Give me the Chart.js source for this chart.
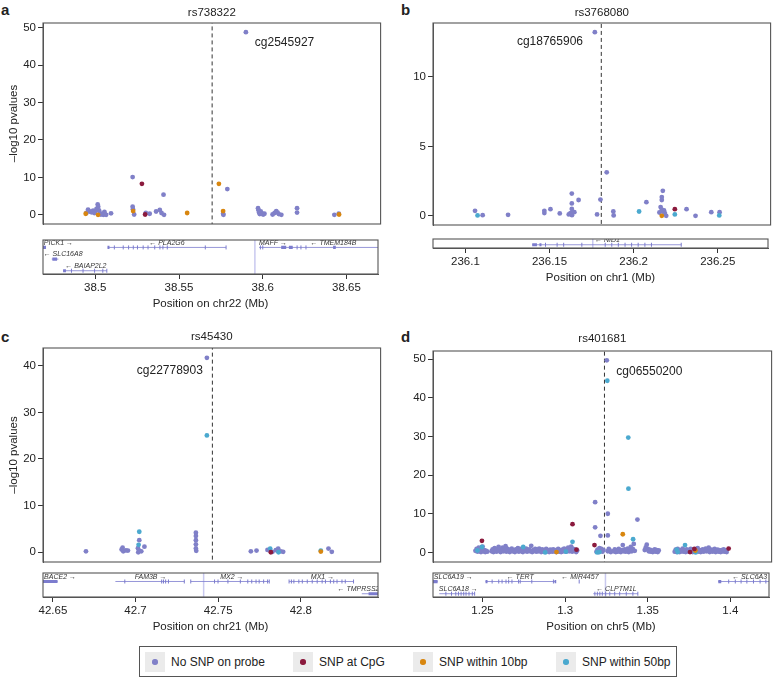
<!DOCTYPE html>
<html lang="en">
<head>
<meta charset="UTF-8">
<title>CpG probe associations around four SNPs</title>
<script src="https://cdn.jsdelivr.net/npm/chart.js"></script>
<style>
    body {
        margin: 0;
        background: #fff;
        font-family: "Liberation Sans", Arial, sans-serif;
        color: #222;
    }
    #page {
        position: relative;
        width: 773px;
        height: 677px;
        overflow: hidden;
    }
    canvas { position: absolute; }
    .tag {
        position: absolute;
        font-weight: bold;
        font-size: 15px;
        line-height: 16px;
    }
    .legend {
        position: absolute;
        left: 139px;
        top: 646px;
        width: 536px;
        height: 29px;
        border: 1px solid #555;
    }
    .key {
        position: absolute;
        top: 5px;
        width: 20px;
        height: 20px;
        background: #ebebeb;
    }
    .key span {
        position: absolute;
        left: 7.3px;
        top: 7.3px;
        width: 5.4px;
        height: 5.4px;
        border-radius: 50%;
    }
    .lab {
        position: absolute;
        top: 0;
        line-height: 30px;
        font-size: 12px;
        white-space: nowrap;
    }
</style>
</head>
<body>
<div id="page">
    <div class="tag" style="left:1px;top:2px">a</div>
    <div class="tag" style="left:401px;top:2px">b</div>
    <div class="tag" style="left:1px;top:329px">c</div>
    <div class="tag" style="left:401px;top:329px">d</div>
    <div class="legend" id="legend"></div>
</div>

<script>
// categories and colours
const CATEGORIES = ['No SNP on probe', 'SNP at CpG', 'SNP within 10bp', 'SNP within 50bp'];
const COLORS = ['#8080c8', '#8b1a3d', '#d8860f', '#4ba9cf'];

// ---- panel a : rs738322, chr22 ----
const aXRange = [38.4688, 38.6688];
const aYRange = [-2.44, 51.25];
const aXTicks = [38.5, 38.55, 38.6, 38.65];
const aYTicks = [0, 10, 20, 30, 40, 50];
const aSnp = 38.569;
const aProbe = ['cg2545927', 38.5943, 45.9, 'left'];
const aNoSnp = [
    [38.4945, 0.5], [38.4955, 1.4], [38.4965, 0.9], [38.4975, 0.7], [38.4985, 1.1], [38.4992, 0.5],
    [38.5000, 1.0], [38.5005, 1.6], [38.5012, 2.8], [38.5015, 2.2], [38.5020, 1.2], [38.5025, 0.4],
    [38.5030, 0.1], [38.5038, 0.3], [38.5045, 0.0], [38.5052, 0.8], [38.5055, 0.2], [38.5062, 0.0],
    [38.5091, 0.4], [38.5219, 10.1], [38.5219, 2.2], [38.5221, 1.5], [38.5228, 0.1], [38.5297, 0.5],
    [38.5320, 0.3], [38.5358, 0.9], [38.5380, 1.3], [38.5390, 0.5], [38.5402, 5.4], [38.5405, 0.0],
    [38.5755, 0.3], [38.5757, 0.0], [38.5780, 6.9], [38.5890, 48.8], [38.5962, 1.8], [38.5965, 1.2],
    [38.5968, 0.6], [38.5972, 0.2], [38.5978, 0.9], [38.5985, 0.4], [38.5992, 0.1], [38.6000, 0.3],
    [38.6048, 0.1], [38.6060, 0.5], [38.6070, 1.0], [38.6078, 0.6], [38.6085, 0.2], [38.6100, 0.0],
    [38.6193, 1.8], [38.6193, 0.6], [38.6414, 0.0], [38.6440, 0.3]
];
const aCpg = [[38.5274, 8.3], [38.5293, 0.1]];
const aWithin10 = [[38.4941, 0.3], [38.5014, 0.0], [38.5222, 1.0], [38.5542, 0.5], [38.5730, 8.3], [38.5755, 1.0], [38.6442, 0.1]];
const aWithin50 = [];
const aRows = [0.363, 3.28];
const aGenes = [[38.4500, 38.4706, 1], [38.5075, 38.5781, 1], [38.4740, 38.4780, 2], [38.4808, 38.5069, 3], [38.5978, 38.6108, 1], [38.6110, 38.7000, 1]];
const aBlocks = [[38.4600, 38.4706, 1], [38.5073, 38.5085, 1], [38.6110, 38.6140, 1], [38.6156, 38.6179, 1], [38.6420, 38.6436, 1], [38.4744, 38.4772, 2], [38.4808, 38.4825, 3]];
const aExons = [
    [38.5114, 1], [38.5167, 1], [38.5199, 1], [38.5227, 1], [38.5252, 1], [38.5286, 1], [38.5315, 1],
    [38.5355, 1], [38.5386, 1], [38.5404, 1], [38.5430, 1], [38.5657, 1], [38.5781, 1], [38.5986, 1],
    [38.6000, 1], [38.6205, 1], [38.6228, 1], [38.6258, 1], [38.4858, 3], [38.4927, 3], [38.4996, 3],
    [38.5045, 3], [38.5069, 3]
];
const aGeneLabels = [['PICK1 →', 38.4780, 1], ['← PLA2G6', 38.5428, 1], ['← SLC16A8', 38.4808, 2], ['← BAIAP2L2', 38.4944, 3], ['MAFF →', 38.6061, 1], ['← TMEM184B', 38.6422, 1]];
const aMarker = 38.5953;

// ---- panel b : rs3768080, chr1 ----
const bXRange = [236.0807, 236.2799];
const bYRange = [-0.66, 13.88];
const bXTicks = [236.1, 236.15, 236.2, 236.25];
const bYTicks = [0, 5, 10];
const bSnp = 236.180;
const bProbe = ['cg18765906', 236.1692, 12.5, 'right'];
const bNoSnp = [
    [236.1055, 0.36], [236.1100, 0.05], [236.1250, 0.07], [236.1464, 0.36], [236.1464, 0.2], [236.1500, 0.48],
    [236.1555, 0.17], [236.1608, 0.1], [236.1618, 0.2], [236.1627, 0.05], [236.1626, 1.6], [236.1626, 0.89],
    [236.1626, 0.5], [236.1632, 0.26], [236.1641, 0.26], [236.1666, 1.14], [236.1762, 13.22], [236.1775, 0.1],
    [236.1795, 1.17], [236.1832, 3.13], [236.1871, 0.31], [236.1873, 0.03], [236.2066, 0.98], [236.2143, 0.24],
    [236.2150, 0.63], [236.2157, 1.35], [236.2157, 1.14], [236.2163, 1.8], [236.2157, 0.44], [236.2163, 0.31],
    [236.2170, 0.39], [236.2175, 0.2], [236.2183, 0.0], [236.2303, 0.48], [236.2356, 0.0], [236.2449, 0.26],
    [236.2498, 0.26]
];
const bCpg = [[236.2234, 0.48]];
const bWithin10 = [[236.2157, 0.0]];
const bWithin50 = [[236.1070, 0.03], [236.2023, 0.31], [236.2234, 0.1], [236.2496, 0.03]];
const bRows = [0.36, 1.36];
const bGenes = [[236.1397, 236.2283, 1]];
const bBlocks = [[236.1397, 236.1425, 1], [236.1440, 236.1452, 1]];
const bExons = [
    [236.1476, 1], [236.1545, 1], [236.1584, 1], [236.1692, 1], [236.1831, 1], [236.1870, 1], [236.1909, 1],
    [236.1949, 1], [236.1988, 1], [236.2027, 1], [236.2067, 1], [236.2106, 1], [236.2283, 1]
];
const bGeneLabels = [['← NID1', 236.1844, 1]];
const bMarker = 236.1757;

// ---- panel c : rs45430, chr21 ----
const cXRange = [42.644, 42.8467];
const cYRange = [-2.09, 43.8];
const cXTicks = [42.65, 42.7, 42.75, 42.8];
const cYTicks = [0, 10, 20, 30, 40];
const cSnp = 42.7457;
const cProbe = ['cg22778903', 42.7400, 39.0, 'right'];
const cNoSnp = [
    [42.6698, 0.2], [42.6912, 0.6], [42.6918, 0.99], [42.6922, 0.2], [42.6938, 0.4], [42.6950, 0.35],
    [42.7010, 0.86], [42.7018, 2.6], [42.7020, 0.3], [42.7012, 0.0], [42.7030, 0.2], [42.7049, 1.2],
    [42.7358, 4.2], [42.7358, 3.5], [42.7358, 2.6], [42.7358, 1.7], [42.7358, 0.8], [42.7360, 0.3],
    [42.7424, 41.7], [42.7688, 0.2], [42.7722, 0.35], [42.7788, 0.5], [42.7818, 0.1], [42.7838, 0.45],
    [42.7852, 0.78], [42.7868, 0.2], [42.7882, 0.1], [42.8154, 0.78], [42.8174, 0.1]
];
const cCpg = [[42.7808, 0.0]];
const cWithin10 = [[42.8108, 0.15]];
const cWithin50 = [[42.7018, 4.4], [42.7014, 1.6], [42.7424, 25.05], [42.7804, 0.78], [42.7854, 0.0], [42.8108, 0.35]];
const cRows = [0.307, 2.264];
const cGenes = [[42.6300, 42.6528, 1], [42.6878, 42.7295, 1], [42.7334, 42.7809, 1], [42.7929, 42.8319, 1], [42.8369, 42.8800, 2]];
const cBlocks = [[42.6400, 42.6528, 1], [42.8410, 42.8800, 2]];
const cExons = [
    [42.6935, 1], [42.7158, 1], [42.7169, 1], [42.7182, 1], [42.7199, 1], [42.7295, 1], [42.7334, 1],
    [42.7478, 1], [42.7499, 1], [42.7559, 1], [42.7634, 1], [42.7679, 1], [42.7703, 1], [42.7729, 1],
    [42.7748, 1], [42.7775, 1], [42.7799, 1], [42.7809, 1], [42.7929, 1], [42.7943, 1], [42.7958, 1],
    [42.7988, 1], [42.8009, 1], [42.8039, 1], [42.8069, 1], [42.8099, 1], [42.8129, 1], [42.8149, 1],
    [42.8179, 1], [42.8199, 1], [42.8219, 1], [42.8249, 1], [42.8269, 1], [42.8319, 1]
];
const cGeneLabels = [['BACE2 →', 42.6543, 1], ['FAM3B →', 42.7091, 1], ['MX2 →', 42.7583, 1], ['MX1 →', 42.8131, 1], ['← TMPRSS2', 42.8349, 2]];
const cMarker = 42.7412;

// ---- panel d : rs401681, chr5 ----
const dXRange = [1.2200, 1.4234];
const dYRange = [-2.48, 52.1];
const dXTicks = [1.25, 1.3, 1.35, 1.4];
const dYTicks = [0, 10, 20, 30, 40, 50];
const dSnp = 1.323;
const dProbe = ['cg06550200', 1.3301, 46.8, 'left'];
const dNoSnp = [
    [1.2455, 0.4], [1.2462, 0.9], [1.2468, 0.2], [1.2475, 1.2], [1.2480, 0.5], [1.2488, 0.1], [1.2492, 0.8],
    [1.2498, 1.5], [1.2503, 0.3], [1.2509, 0.6], [1.2514, 0.1], [1.2520, 0.4], [1.2526, 0.2],
    [1.2552, 0.3], [1.2558, 0.8], [1.2563, 0.1], [1.2570, 1.1], [1.2575, 0.5], [1.2582, 0.2], [1.2588, 0.9],
    [1.2594, 1.4], [1.2600, 0.4], [1.2606, 0.1], [1.2612, 0.7], [1.2618, 1.2], [1.2623, 0.3], [1.2630, 0.6],
    [1.2636, 1.6], [1.2641, 0.2], [1.2648, 0.9], [1.2655, 0.4], [1.2661, 0.1], [1.2667, 0.7], [1.2673, 1.0],
    [1.2679, 0.3], [1.2686, 0.5], [1.2692, 0.1], [1.2698, 0.8], [1.2704, 0.4], [1.2710, 1.1], [1.2716, 0.2],
    [1.2722, 0.6], [1.2728, 0.9], [1.2734, 0.3], [1.2740, 0.1], [1.2747, 0.7], [1.2753, 0.4], [1.2759, 1.0],
    [1.2765, 0.2], [1.2771, 0.5], [1.2777, 0.8], [1.2783, 0.3], [1.2790, 1.7], [1.2796, 0.1], [1.2802, 0.6],
    [1.2808, 0.4], [1.2814, 0.9], [1.2820, 0.2], [1.2826, 0.7], [1.2832, 0.3], [1.2838, 1.0], [1.2844, 0.5],
    [1.2850, 0.1], [1.2856, 0.8], [1.2862, 0.4], [1.2868, 0.2], [1.2874, 0.6], [1.2880, 0.9], [1.2886, 0.3],
    [1.2892, 0.5], [1.2898, 0.1], [1.2904, 0.7], [1.2910, 0.4], [1.2916, 0.2], [1.2922, 0.8], [1.2928, 0.3],
    [1.2934, 0.6], [1.2940, 0.1], [1.2946, 0.4], [1.2952, 0.9], [1.2958, 0.2], [1.2964, 0.5], [1.2970, 0.1],
    [1.2976, 0.7], [1.2982, 0.3], [1.2988, 1.0], [1.2994, 0.4], [1.3000, 0.2], [1.3006, 0.8], [1.3012, 1.2],
    [1.3018, 0.3], [1.3024, 0.6], [1.3030, 1.5], [1.3036, 0.2], [1.3042, 0.9], [1.3048, 0.4], [1.3054, 0.7],
    [1.3060, 0.1], [1.3066, 0.5],
    [1.3174, 13.0], [1.3174, 6.5], [1.3206, 4.3], [1.3182, 0.2], [1.3188, 0.7], [1.3194, 0.1], [1.3200, 1.1],
    [1.3206, 0.4], [1.3212, 0.9], [1.3218, 0.2], [1.3224, 0.6], [1.3244, 49.7], [1.3250, 10.0], [1.3250, 4.4],
    [1.3250, 0.3], [1.3256, 0.9], [1.3262, 0.5], [1.3268, 0.1],
    [1.3286, 0.3], [1.3292, 0.8], [1.3298, 0.1], [1.3304, 0.5], [1.3310, 0.2], [1.3316, 0.9], [1.3322, 0.4],
    [1.3328, 0.1], [1.3334, 0.6], [1.3340, 1.9], [1.3346, 0.3], [1.3352, 0.8], [1.3358, 0.2], [1.3364, 0.5],
    [1.3370, 1.0], [1.3376, 0.1], [1.3382, 0.6], [1.3388, 1.4], [1.3394, 0.3], [1.3400, 0.9], [1.3406, 2.2],
    [1.3412, 0.4], [1.3428, 8.5],
    [1.3472, 0.6], [1.3478, 1.3], [1.3484, 2.0], [1.3490, 0.9], [1.3496, 0.3], [1.3502, 0.7], [1.3508, 0.2],
    [1.3514, 0.5], [1.3520, 0.1], [1.3526, 0.4], [1.3532, 0.8], [1.3538, 0.2], [1.3544, 0.6], [1.3550, 0.1],
    [1.3556, 0.5],
    [1.3652, 0.2], [1.3658, 0.7], [1.3664, 0.1], [1.3670, 0.9], [1.3676, 0.4], [1.3682, 0.1], [1.3688, 0.6],
    [1.3694, 0.3], [1.3700, 1.0], [1.3706, 0.2], [1.3712, 0.5], [1.3718, 0.1], [1.3724, 0.8], [1.3730, 0.3],
    [1.3736, 0.6], [1.3742, 0.2], [1.3748, 0.9], [1.3754, 0.4], [1.3760, 0.1], [1.3766, 0.7], [1.3772, 0.3],
    [1.3784, 0.5], [1.3790, 1.1], [1.3796, 0.2], [1.3802, 0.6], [1.3808, 0.1], [1.3814, 0.4], [1.3820, 0.8],
    [1.3826, 0.2], [1.3832, 0.5], [1.3838, 1.0], [1.3844, 0.3], [1.3850, 0.6], [1.3856, 1.2], [1.3862, 0.1],
    [1.3868, 0.4], [1.3874, 0.7], [1.3880, 0.2], [1.3886, 0.5], [1.3892, 0.9], [1.3898, 0.1], [1.3904, 0.4],
    [1.3910, 0.7], [1.3916, 0.2], [1.3922, 0.5], [1.3928, 0.1], [1.3934, 0.6], [1.3940, 0.3], [1.3946, 0.8],
    [1.3952, 0.2], [1.3958, 0.5], [1.3964, 0.1]
];
const dCpg = [[1.2494, 3.0], [1.3038, 7.3], [1.3062, 0.7], [1.3170, 1.9], [1.3744, 0.1], [1.3770, 0.9], [1.3976, 1.0]];
const dWithin10 = [[1.2942, 0.1], [1.3340, 4.7], [1.3776, 0.5]];
const dWithin50 = [
    [1.2467, 0.5], [1.2494, 1.4], [1.2742, 1.4], [1.2874, 0.0], [1.2998, 0.2], [1.3038, 2.75], [1.3186, 0.0],
    [1.3200, 0.1], [1.3247, 44.4], [1.3373, 29.7], [1.3374, 16.5], [1.3402, 3.4], [1.3664, 0.7], [1.3670, 0.1],
    [1.3714, 1.9], [1.3778, 0.0]
];
const dRows = [0.30, 2.27];
const dGenes = [[1.2000, 1.2228, 1], [1.2238, 1.2452, 2], [1.2518, 1.2942, 1], [1.3084, 1.3087, 1], [1.3170, 1.3440, 2], [1.3927, 1.4400, 1]];
const dBlocks = [[1.2100, 1.2228, 1], [1.3927, 1.3945, 1], [1.2518, 1.2530, 1], [1.2936, 1.2946, 1]];
const dExons = [
    [1.2278, 2], [1.2312, 2], [1.2338, 2], [1.2354, 2], [1.2370, 2], [1.2386, 2], [1.2400, 2], [1.2418, 2],
    [1.2438, 2], [1.2452, 2], [1.2558, 1], [1.2598, 1], [1.2618, 1], [1.2642, 1], [1.2658, 1], [1.2678, 1],
    [1.2718, 1], [1.2728, 1], [1.2798, 1], [1.2929, 1], [1.3085, 1], [1.3180, 2], [1.3195, 2], [1.3210, 2],
    [1.3225, 2], [1.3245, 2], [1.3270, 2], [1.3300, 2], [1.3330, 2], [1.3370, 2], [1.3410, 2], [1.3440, 2],
    [1.3990, 1], [1.4030, 1], [1.4065, 1], [1.4100, 1], [1.4140, 1], [1.4180, 1], [1.4215, 1]
];
const dGeneLabels = [['SLC6A19 →', 1.2323, 1], ['SLC6A18 →', 1.2353, 2], ['← TERT', 1.2728, 1], ['← MIR4457', 1.3089, 1], ['← CLPTM1L', 1.3310, 2], ['← SLC6A3', 1.4117, 1]];
const dMarker = 1.3244;

// layout of the four panels (pixels on the page)
const panels = [
    { left: 0, top: 0, L: 43, R: 381, T: 23, B: 224, TT: 236, TB: 274, titleY: 12.7, title: 'rs738322',
      xTitle: 'Position on chr22 (Mb)', yTitle: true, xRange: aXRange, yRange: aYRange, xTicks: aXTicks, yTicks: aYTicks,
      series: [aNoSnp, aCpg, aWithin10, aWithin50], snp: aSnp, probe: aProbe, rows: aRows,
      genes: aGenes, blocks: aBlocks, exons: aExons, geneLabels: aGeneLabels, marker: aMarker },
    { left: 390, top: 0, L: 433, R: 771, T: 23, B: 225, TT: 235, TB: 248, titleY: 12.7, title: 'rs3768080',
      xTitle: 'Position on chr1 (Mb)', yTitle: false, xRange: bXRange, yRange: bYRange, xTicks: bXTicks, yTicks: bYTicks,
      series: [bNoSnp, bCpg, bWithin10, bWithin50], snp: bSnp, probe: bProbe, rows: bRows,
      genes: bGenes, blocks: bBlocks, exons: bExons, geneLabels: bGeneLabels, marker: bMarker },
    { left: 0, top: 318, L: 43, R: 381, T: 348, B: 562, TT: 569, TB: 597, titleY: 337, title: 'rs45430',
      xTitle: 'Position on chr21 (Mb)', yTitle: true, xRange: cXRange, yRange: cYRange, xTicks: cXTicks, yTicks: cYTicks,
      series: [cNoSnp, cCpg, cWithin10, cWithin50], snp: cSnp, probe: cProbe, rows: cRows,
      genes: cGenes, blocks: cBlocks, exons: cExons, geneLabels: cGeneLabels, marker: cMarker },
    { left: 390, top: 318, L: 433, R: 772, T: 351, B: 562, TT: 569, TB: 597, titleY: 339, title: 'rs401681',
      xTitle: 'Position on chr5 (Mb)', yTitle: false, xRange: dXRange, yRange: dYRange, xTicks: dXTicks, yTicks: dYTicks,
      series: [dNoSnp, dCpg, dWithin10, dWithin50], snp: dSnp, probe: dProbe, rows: dRows,
      genes: dGenes, blocks: dBlocks, exons: dExons, geneLabels: dGeneLabels, marker: dMarker }
];

const FONT = '"Liberation Sans", Arial, sans-serif';
const GENE_COLOR = '#7c7cce';
const DRAW_ORDER = [4, 1, 2, 3];
Chart.defaults.font.family = FONT;
Chart.defaults.color = '#222';

const page = document.getElementById('page');

function addCanvas(left, top, w, h) {
    const c = document.createElement('canvas');
    c.width = w;
    c.height = h;
    c.style.left = left + 'px';
    c.style.top = top + 'px';
    c.style.width = w + 'px';
    c.style.height = h + 'px';
    page.appendChild(c);
    return c;
}

// box around the chart area
const framePlugin = {
    id: 'frame',
    afterDraw(chart) {
        const { ctx, chartArea: a } = chart;
        ctx.save();
        ctx.strokeStyle = '#555';
        ctx.lineWidth = 1.1;
        ctx.strokeRect(a.left, a.top, a.right - a.left, a.bottom - a.top);
        ctx.restore();
    }
};

// name of the top probe next to its point
const probeLabelPlugin = {
    id: 'probeLabel',
    afterDatasetsDraw(chart, args, opts) {
        const [text, x, y, align] = opts.probe;
        const { ctx, scales } = chart;
        ctx.save();
        ctx.font = '12px ' + FONT;
        ctx.fillStyle = '#222';
        ctx.textAlign = align;
        ctx.textBaseline = 'middle';
        ctx.fillText(text, scales.x.getPixelForValue(x), scales.y.getPixelForValue(y));
        ctx.restore();
    }
};

// gene names above their lines
const geneLabelPlugin = {
    id: 'geneLabels',
    afterDatasetsDraw(chart, args, opts) {
        const { ctx, scales, chartArea: a } = chart;
        ctx.save();
        ctx.beginPath();
        ctx.rect(a.left, a.top, a.right - a.left, a.bottom - a.top);
        ctx.clip();
        ctx.font = 'italic 7px ' + FONT;
        ctx.fillStyle = '#333';
        ctx.textAlign = 'center';
        ctx.textBaseline = 'middle';
        opts.labels.forEach(([name, x, row]) => {
            ctx.fillText(name, scales.x.getPixelForValue(x), scales.y.getPixelForValue(row) - 4.8);
        });
        ctx.restore();
    }
};

function segments(list) {
    const pts = [];
    list.forEach(([s, e, r]) => {
        pts.push({ x: s, y: r }, { x: e, y: r }, { x: e, y: null });
    });
    return pts;
}

function fixedTicks(values) {
    return scale => { scale.ticks = values.map(v => ({ value: v })); };
}

function scatterPanel(p) {
    const canvas = addCanvas(p.left, p.top, p.R - p.left + 2, p.B - p.top + 12);
    const datasets = p.series.map((pts, i) => ({
        label: CATEGORIES[i],
        data: pts.map(([x, y]) => ({ x, y })),
        backgroundColor: COLORS[i],
        borderWidth: 0,
        pointRadius: 2.4,
        pointHoverRadius: 2.4,
        order: DRAW_ORDER[i]
    }));
    datasets.push({
        type: 'line',
        data: [{ x: p.snp, y: p.yRange[0] - 10 }, { x: p.snp, y: p.yRange[1] + 10 }],
        borderColor: '#333',
        borderWidth: 1,
        borderDash: [4, 3],
        pointRadius: 0,
        order: 9
    });
    new Chart(canvas, {
        type: 'scatter',
        data: { datasets },
        options: {
            responsive: false,
            animation: false,
            events: [],
            layout: { padding: { top: 0, left: 0, right: 2, bottom: 12 } },
            scales: {
                x: { type: 'linear', display: false, min: p.xRange[0], max: p.xRange[1] },
                y: {
                    min: p.yRange[0],
                    max: p.yRange[1],
                    afterBuildTicks: fixedTicks(p.yTicks),
                    afterFit: scale => { scale.width = p.L - p.left; },
                    grid: { drawOnChartArea: false, tickLength: 5, color: '#333' },
                    border: { color: '#555' },
                    ticks: { padding: 2, color: '#222', font: { size: 11.5 }, callback: v => String(v) },
                    title: {
                        display: p.yTitle,
                        text: '\u2013log10 pvalues',
                        color: '#222',
                        font: { size: 11.5 },
                        padding: { top: 7, bottom: 0 }
                    }
                }
            },
            plugins: {
                legend: { display: false },
                tooltip: { enabled: false },
                title: {
                    display: true,
                    text: p.title,
                    fullSize: false,
                    color: '#222',
                    font: { size: 11.5, weight: 'normal' },
                    padding: { top: p.titleY - p.top - 6.9, bottom: p.T - p.titleY - 6.9 }
                },
                probeLabel: { probe: p.probe }
            }
        },
        plugins: [framePlugin, probeLabelPlugin]
    });
}

function trackPanel(p) {
    const axisH = 44;
    const canvas = addCanvas(p.left, p.TT - 1, p.R - p.left + 2, p.TB - p.TT + 1 + axisH);
    new Chart(canvas, {
        type: 'scatter',
        data: {
            datasets: [
                { type: 'line', data: [{ x: p.marker, y: p.rows[0] - 5 }, { x: p.marker, y: p.rows[1] + 5 }],
                  borderColor: '#c9c9ef', borderWidth: 1.5, pointRadius: 0, order: 4 },
                { type: 'line', data: segments(p.genes), borderColor: GENE_COLOR, borderWidth: 0.8,
                  pointRadius: 0, spanGaps: false, order: 3 },
                { type: 'line', data: segments(p.blocks), borderColor: GENE_COLOR, borderWidth: 3.2,
                  borderCapStyle: 'butt', pointRadius: 0, spanGaps: false, order: 2 },
                { data: p.exons.map(([x, r]) => ({ x, y: r })), pointStyle: 'line', rotation: 90,
                  pointRadius: 2, borderColor: GENE_COLOR, borderWidth: 1, order: 1 }
            ]
        },
        options: {
            responsive: false,
            animation: false,
            events: [],
            layout: { padding: { top: 1, left: p.L - p.left, right: 2, bottom: 0 } },
            scales: {
                x: {
                    type: 'linear',
                    position: 'bottom',
                    min: p.xRange[0],
                    max: p.xRange[1],
                    afterBuildTicks: fixedTicks(p.xTicks),
                    afterFit: scale => { scale.height = axisH; },
                    grid: { drawOnChartArea: false, tickLength: 5, color: '#333' },
                    border: { color: '#555' },
                    ticks: { padding: 2, color: '#222', font: { size: 11.5 }, autoSkip: false, maxRotation: 0,
                             callback: v => String(v) },
                    title: { display: true, text: p.xTitle, color: '#222', font: { size: 11.5 },
                             padding: { top: 0, bottom: 7 } }
                },
                y: { display: false, min: p.rows[0], max: p.rows[1], reverse: true }
            },
            plugins: {
                legend: { display: false },
                tooltip: { enabled: false },
                geneLabels: { labels: p.geneLabels }
            }
        },
        plugins: [framePlugin, geneLabelPlugin]
    });
}

panels.forEach(p => {
    scatterPanel(p);
    trackPanel(p);
});

// shared legend at the bottom
const legend = document.getElementById('legend');
const keyLeft = [5, 153, 273, 416];
CATEGORIES.forEach((name, i) => {
    const key = document.createElement('div');
    key.className = 'key';
    key.style.left = keyLeft[i] + 'px';
    const dot = document.createElement('span');
    dot.style.background = COLORS[i];
    key.appendChild(dot);
    legend.appendChild(key);
    const lab = document.createElement('div');
    lab.className = 'lab';
    lab.style.left = (keyLeft[i] + 26) + 'px';
    lab.textContent = name;
    legend.appendChild(lab);
});
</script>
</body>
</html>
